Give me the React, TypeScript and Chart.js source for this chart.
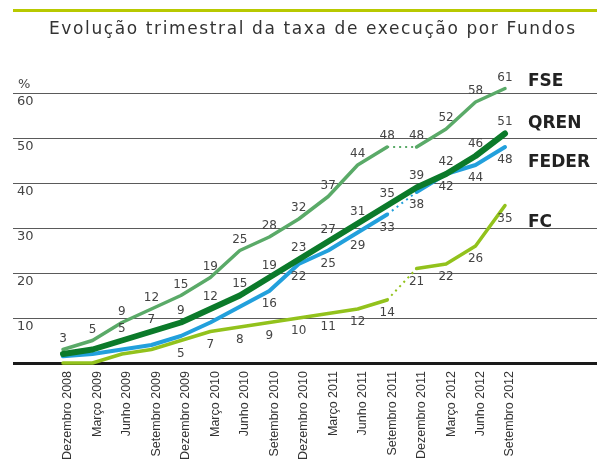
import React, { useEffect, useRef } from "react";
import { Chart, registerables } from "chart.js";

Chart.register(...registerables);

const titleText = "Evolução trimestral da taxa de execução por Fundos";
const yUnit = "%";

const quarters = [
  "Dezembro 2008",
  "Março 2009",
  "Junho 2009",
  "Setembro 2009",
  "Dezembro 2009",
  "Março 2010",
  "Junho 2010",
  "Setembro 2010",
  "Dezembro 2010",
  "Março 2011",
  "Junho 2011",
  "Setembro 2011",
  "Dezembro 2011",
  "Março 2012",
  "Junho 2012",
  "Setembro 2012",
];

const fseValues = [3, 5, 9, 12, 15, 19, 25, 28, 32, 37, 44, 48, 48, 52, 58, 61];
const qrenValues = [2, 3, 5, 7, 9, 12, 15, 19, 23, 27, 31, 35, 39, 42, 46, 51];
const federValues = [1.5, 2, 3, 4, 6, 9, 12.5, 16, 22, 25, 29, 33, 38, 42, 44, 48];
const fcValues = [0, 0, 2, 3, 5, 7, 8, 9, 10, 11, 12, 14, 21, 22, 26, 35];

const seriesNames = ["FSE", "QREN", "FEDER", "FC"];
// first index whose value is printed next to the line
const labelFrom = [0, 2, 7, 4];
// index where the dotted break segment starts (-1 = none)
const breakAt = [11, -1, 11, 11];

const yTickValues = [0, 10, 20, 30, 40, 50, 60];

const colors = ["#5aaa68", "#0b7a2a", "#22a0dc", "#92c21c"];
const widths = [3.5, 6, 4, 3.5];
const labelDy = [-11, -12, 13, 13];
const namePos = [
  { x: 528, y: 86 },
  { x: 528, y: 128 },
  { x: 528, y: 167 },
  { x: 528, y: 227 },
];

const decorPlugin = {
  id: "decor",
  beforeDatasetsDraw(chart: any) {
    const ctx = chart.ctx as CanvasRenderingContext2D;
    const y = chart.scales.y;
    ctx.save();
    // top accent bar
    ctx.fillStyle = "#b8c900";
    ctx.fillRect(13, 9, 584, 3);
    // title
    ctx.fillStyle = "#333333";
    ctx.font = '17px "DejaVu Sans"';
    ctx.textBaseline = "alphabetic";
    ctx.textAlign = "left";
    const w = ctx.measureText(titleText).width;
    const sp = Math.max(0, (526 - w) / (titleText.length - 1));
    (ctx as any).letterSpacing = sp + "px";
    ctx.fillText(titleText, 49, 34);
    (ctx as any).letterSpacing = "0px";
    // grid lines and y labels
    yTickValues.forEach((v) => {
      const py = Math.round(y.getPixelForValue(v));
      if (v === 0) {
        ctx.fillStyle = "#1a1a1a";
        ctx.fillRect(13, py - 1, 584, 3);
      } else {
        ctx.fillStyle = "#5a5a5a";
        ctx.fillRect(13, py, 584, 1);
        ctx.fillStyle = "#444444";
        ctx.font = '13px "DejaVu Sans"';
        ctx.fillText(String(v), 17, py + 12);
      }
    });
    const top = Math.round(y.getPixelForValue(yTickValues[yTickValues.length - 1]));
    ctx.fillStyle = "#444444";
    ctx.font = '13px "DejaVu Sans"';
    ctx.fillText(yUnit, 18, top - 5);
    ctx.restore();
  },
  afterDatasetsDraw(chart: any) {
    const ctx = chart.ctx as CanvasRenderingContext2D;
    ctx.save();
    ctx.font = '12px "DejaVu Sans"';
    ctx.fillStyle = "#444444";
    ctx.textAlign = "center";
    ctx.textBaseline = "middle";
    chart.data.datasets.forEach((ds: any, i: number) => {
      const meta = chart.getDatasetMeta(i);
      meta.data.forEach((pt: any, j: number) => {
        if (j < labelFrom[i]) return;
        ctx.fillText(String(Math.round(ds.data[j])), pt.x, pt.y + labelDy[i]);
      });
    });
    ctx.font = 'bold 17px "DejaVu Sans"';
    ctx.fillStyle = "#222222";
    ctx.textAlign = "left";
    ctx.textBaseline = "alphabetic";
    seriesNames.forEach((n, i) => ctx.fillText(n, namePos[i].x, namePos[i].y));
    ctx.restore();
  },
};

const seriesValues = [fseValues, qrenValues, federValues, fcValues];

export default function App() {
  const ref = useRef<HTMLCanvasElement | null>(null);
  useEffect(() => {
    if (!ref.current) return;
    const chart = new Chart(ref.current, {
      type: "line",
      data: {
        labels: quarters,
        datasets: seriesValues.map((vals, i) => ({
          label: seriesNames[i],
          data: vals,
          borderColor: colors[i],
          backgroundColor: colors[i],
          borderWidth: widths[i],
          pointRadius: 0,
          tension: 0,
          clip: false as any,
          borderCapStyle: "round" as const,
          borderJoinStyle: "round" as const,
          order: i === 1 ? 0 : i + 1,
          segment: {
            borderDash: (c: any) => (c.p0DataIndex === breakAt[i] ? [2, 4] : undefined),
            borderCapStyle: (c: any) => (c.p0DataIndex === breakAt[i] ? "butt" : undefined),
            borderWidth: (c: any) => (c.p0DataIndex === breakAt[i] ? 2 : undefined),
          },
        })),
      },
      options: {
        responsive: false,
        animation: false,
        layout: { padding: { left: 63, right: 92, top: 93, bottom: 0 } },
        plugins: { legend: { display: false }, tooltip: { enabled: false }, title: { display: false } },
        scales: {
          x: {
            type: "category",
            grid: { display: false, drawTicks: false },
            border: { display: false },
            ticks: {
              autoSkip: false,
              minRotation: 90,
              maxRotation: 90,
              padding: 8,
              labelOffset: 5,
              color: "#333333",
              font: { family: '"Liberation Sans"', size: 12.5 },
            },
            afterFit: (s: any) => {
              s.height = 96;
            },
          },
          y: {
            display: false,
            min: 0,
            max: 60,
            ticks: { stepSize: 10 },
          },
        },
      },
      plugins: [decorPlugin],
    });
    return () => chart.destroy();
  }, []);
  return (
    <div style={{ position: "fixed", left: 0, top: 0, width: 597, height: 459, background: "#fff" }}>
      <canvas ref={ref} width={597} height={459} style={{ display: "block" }} />
    </div>
  );
}
